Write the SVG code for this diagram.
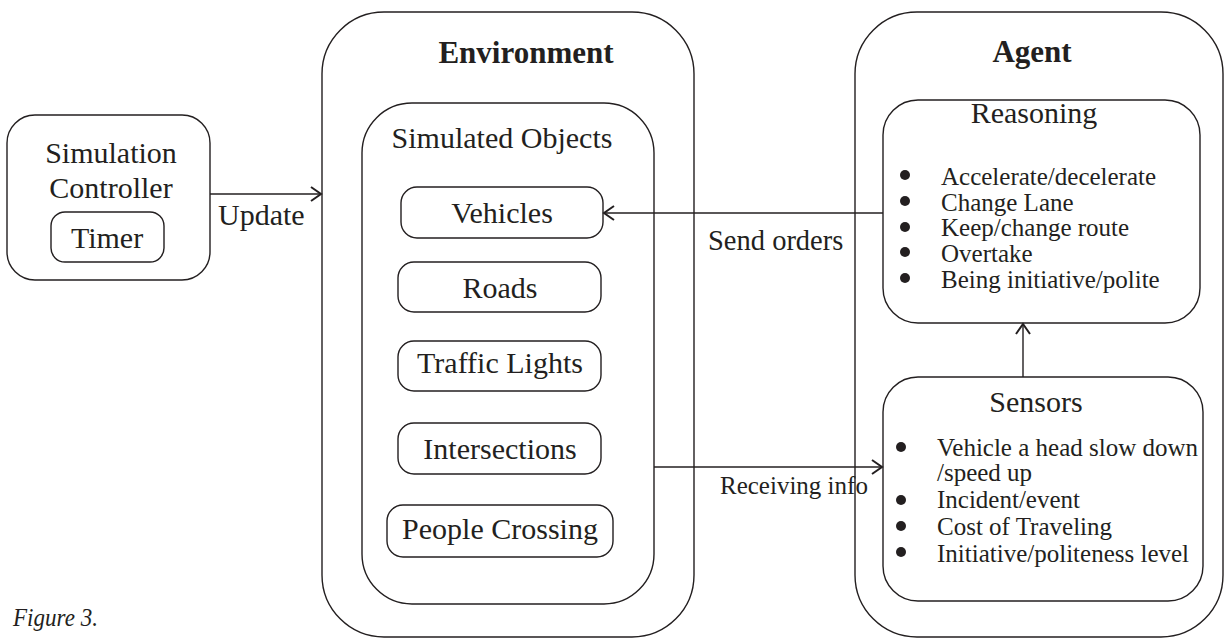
<svg xmlns="http://www.w3.org/2000/svg" width="1226" height="639" viewBox="0 0 1226 639">
<style>
.box{fill:none;stroke:#231f20;stroke-width:1.4}
.t{font-family:"Liberation Serif","Times New Roman",serif;fill:#231f20;font-size:30px}
.c{text-anchor:middle}
.b{font-weight:bold;font-size:31px}
.s{font-size:25px}
.conn{fill:none;stroke:#231f20;stroke-width:1.4}
.head{fill:none;stroke:#231f20;stroke-width:2}
.dot{fill:#231f20}
</style>
<rect width="1226" height="639" fill="#fff"/>
<g id="sim-controller">
<rect class="box" x="7" y="115" width="203" height="165" rx="28"/>
<text class="t c" x="111" y="163">Simulation</text>
<text class="t c" x="111" y="198">Controller</text>
</g>
<g id="timer">
<rect class="box" x="51" y="212" width="113" height="50" rx="14"/>
<text class="t c" x="107" y="248">Timer</text>
</g>
<g id="environment">
<rect class="box" x="322" y="12" width="372" height="625" rx="62"/>
<text class="t c b" x="526" y="63">Environment</text>
</g>
<g id="simulated-objects">
<rect class="box" x="362" y="103" width="292" height="501" rx="50"/>
<text class="t c" x="502" y="148">Simulated Objects</text>
</g>
<g id="vehicles">
<rect class="box" x="401" y="187" width="202" height="51" rx="16"/>
<text class="t c" x="502" y="223">Vehicles</text>
</g>
<g id="roads">
<rect class="box" x="398" y="262" width="203" height="50" rx="16"/>
<text class="t c" x="500" y="298">Roads</text>
</g>
<g id="traffic-lights">
<rect class="box" x="398" y="341" width="203" height="50" rx="16"/>
<text class="t c" x="500" y="373">Traffic Lights</text>
</g>
<g id="intersections">
<rect class="box" x="398" y="423" width="203" height="51" rx="16"/>
<text class="t c" x="500" y="459">Intersections</text>
</g>
<g id="people-crossing">
<rect class="box" x="387" y="505" width="226" height="52" rx="16"/>
<text class="t c" x="500" y="539">People Crossing</text>
</g>
<g id="agent">
<rect class="box" x="855" y="12" width="368" height="625" rx="62"/>
<text class="t c b" x="1032" y="62">Agent</text>
</g>
<g id="reasoning">
<rect class="box" x="883" y="100" width="317" height="223" rx="35"/>
<text class="t c" x="1034" y="123">Reasoning</text>
<circle class="dot" cx="905" cy="175" r="5"/>
<circle class="dot" cx="905" cy="201" r="5"/>
<circle class="dot" cx="905" cy="227" r="5"/>
<circle class="dot" cx="905" cy="252" r="5"/>
<circle class="dot" cx="905" cy="278" r="5"/>
<text class="t s" x="941" y="185">Accelerate/decelerate</text>
<text class="t s" x="941" y="211">Change Lane</text>
<text class="t s" x="941" y="236">Keep/change route</text>
<text class="t s" x="941" y="262">Overtake</text>
<text class="t s" x="941" y="288">Being initiative/polite</text>
</g>
<g id="sensors">
<rect class="box" x="883" y="377" width="320" height="224" rx="35"/>
<text class="t c" x="1036" y="412">Sensors</text>
<circle class="dot" cx="901" cy="447" r="5"/>
<circle class="dot" cx="901" cy="500" r="5"/>
<circle class="dot" cx="901" cy="526" r="5"/>
<circle class="dot" cx="901" cy="552" r="5"/>
<text class="t s" x="937" y="456">Vehicle a head slow down</text>
<text class="t s" x="937" y="481">/speed up</text>
<text class="t s" x="937" y="508">Incident/event</text>
<text class="t s" x="937" y="535">Cost of Traveling</text>
<text class="t s" x="937" y="562">Initiative/politeness level</text>
</g>
<g id="connectors">
<line class="conn" x1="210" y1="194" x2="321" y2="194"/>
<path class="head" d="M311,187 L321,194 L311,201"/>
<text class="t" x="218" y="225">Update</text>
<line class="conn" x1="883" y1="213" x2="604" y2="213"/>
<path class="head" d="M614,206 L604,213 L614,220"/>
<text class="t" x="708" y="250" style="font-size:28.5px">Send orders</text>
<line class="conn" x1="654" y1="467" x2="882" y2="467"/>
<path class="head" d="M872,460 L882,467 L872,474"/>
<text class="t s" x="720" y="494">Receiving info</text>
<line class="conn" x1="1023" y1="377" x2="1023" y2="324"/>
<path class="head" d="M1016,334 L1023,324 L1030,334"/>
</g>
<text class="t" x="13" y="626" style="font-size:26px;font-style:italic" textLength="85" lengthAdjust="spacingAndGlyphs">Figure 3.</text>
</svg>
